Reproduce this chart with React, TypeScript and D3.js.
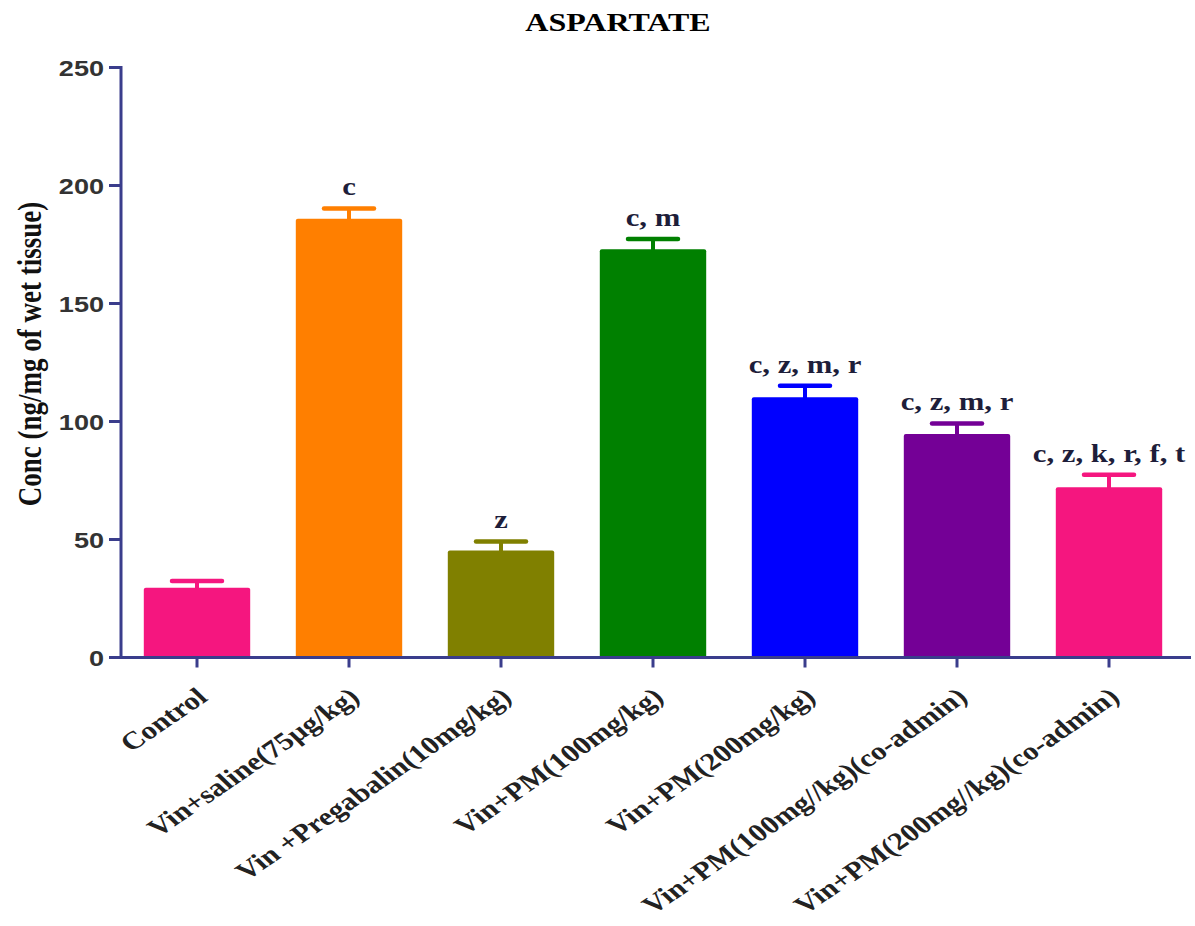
import React from "react";
import * as d3 from "d3";

// Group labels, means and upper error values (ng/mg of wet tissue)
const groups = [
  "Control",
  "Vin+saline(75µg/kg)",
  "Vin +Pregabalin(10mg/kg)",
  "Vin+PM(100mg/kg)",
  "Vin+PM(200mg/kg)",
  "Vin+PM(100mg//kg)(co-admin)",
  "Vin+PM(200mg//kg)(co-admin)",
];
const means = [29.6, 185.9, 45.3, 173.0, 110.3, 94.7, 72.1];
const errorTops = [32.4, 190.3, 49.2, 177.3, 115.2, 99.2, 77.4];
const significance = ["", "c", "z", "c, m", "c, z, m, r", "c, z, m, r", "c, z, k, r, f, t"];
const barColors = ["#F5167F", "#FF7F00", "#808000", "#008000", "#0000FF", "#740096", "#F5167F"];
const yTicks = [0, 50, 100, 150, 200, 250];

const W = 1195;
const H = 926;
const axisColor = "#3A3D8C";
const stretch = 1.23;
const serif = "'Liberation Serif', 'Times New Roman', serif";
const sans = "'Liberation Sans', Arial, sans-serif";

export default function App() {
  const margin = { left: 121, right: 1191, top: 67.5, bottom: 657.5 };
  const y = d3.scaleLinear().domain([0, 250]).range([margin.bottom, margin.top]);
  const x = d3
    .scaleBand<string>()
    .domain(groups)
    .range([margin.left, margin.left + 152 * groups.length])
    .paddingInner(0.3)
    .paddingOuter(0.15);
  const bw = x.bandwidth();
  const capHalf = 25;

  return (
    <svg
      width={W}
      height={H}
      viewBox={`0 0 ${W} ${H}`}
      style={{ position: "absolute", left: 0, top: 0, background: "#fff" }}
    >
      {/* title */}
      <g transform={`translate(618,31) scale(${stretch},1)`}>
        <text textAnchor="middle" fontFamily={serif} fontWeight="bold" fontSize={26} fill="#000">
          ASPARTATE
        </text>
      </g>

      {/* y-axis title */}
      <g transform={`translate(41,354) scale(${stretch},1) rotate(-90)`}>
        <text textAnchor="middle" fontFamily={serif} fontWeight="bold" fontSize={27} fill="#111">
          Conc (ng/mg of wet tissue)
        </text>
      </g>

      {/* bars with upper error bars and significance letters */}
      {groups.map((g, i) => {
        const x0 = x(g)!;
        const cx = x0 + bw / 2;
        const top = y(means[i]);
        const cap = y(errorTops[i]);
        const col = barColors[i];
        return (
          <g key={g}>
            <rect x={x0} y={top} width={bw} height={y(0) - top} fill={col} rx={2} />
            <line x1={cx} x2={cx} y1={top + 1} y2={cap} stroke={col} strokeWidth={4} />
            <line
              x1={cx - capHalf}
              x2={cx + capHalf}
              y1={cap}
              y2={cap}
              stroke={col}
              strokeWidth={4.5}
              strokeLinecap="round"
            />
            {significance[i] && (
              <g transform={`translate(${cx},${cap - 13}) scale(${stretch},1)`}>
                <text
                  textAnchor="middle"
                  fontFamily={serif}
                  fontWeight="bold"
                  fontSize={25}
                  fill="#1E1E3A"
                >
                  {significance[i]}
                </text>
              </g>
            )}
          </g>
        );
      })}

      {/* y axis */}
      <line x1={margin.left} x2={margin.left} y1={margin.top - 1.5} y2={margin.bottom + 1.5} stroke={axisColor} strokeWidth={3} />
      {yTicks.map((t) => (
        <g key={t}>
          <line x1={margin.left - 12} x2={margin.left} y1={y(t)} y2={y(t)} stroke={axisColor} strokeWidth={3} />
          <g transform={`translate(${margin.left - 17},${y(t) + 8}) scale(${stretch},1)`}>
            <text textAnchor="end" fontFamily={sans} fontWeight="bold" fontSize={22} fill="#333">
              {t}
            </text>
          </g>
        </g>
      ))}

      {/* x axis */}
      <line x1={margin.left - 1.5} x2={margin.right} y1={margin.bottom} y2={margin.bottom} stroke={axisColor} strokeWidth={3} />
      {groups.map((g) => {
        const cx = x(g)! + bw / 2;
        return (
          <g key={g}>
            <line x1={cx} x2={cx} y1={margin.bottom} y2={margin.bottom + 10} stroke={axisColor} strokeWidth={3} />
            <g transform={`translate(${cx + 12},${margin.bottom + 42}) scale(${stretch},1) rotate(-40)`}>
              <text textAnchor="end" fontFamily={serif} fontWeight="bold" fontSize={25} fill="#222">
                {g}
              </text>
            </g>
          </g>
        );
      })}
    </svg>
  );
}
